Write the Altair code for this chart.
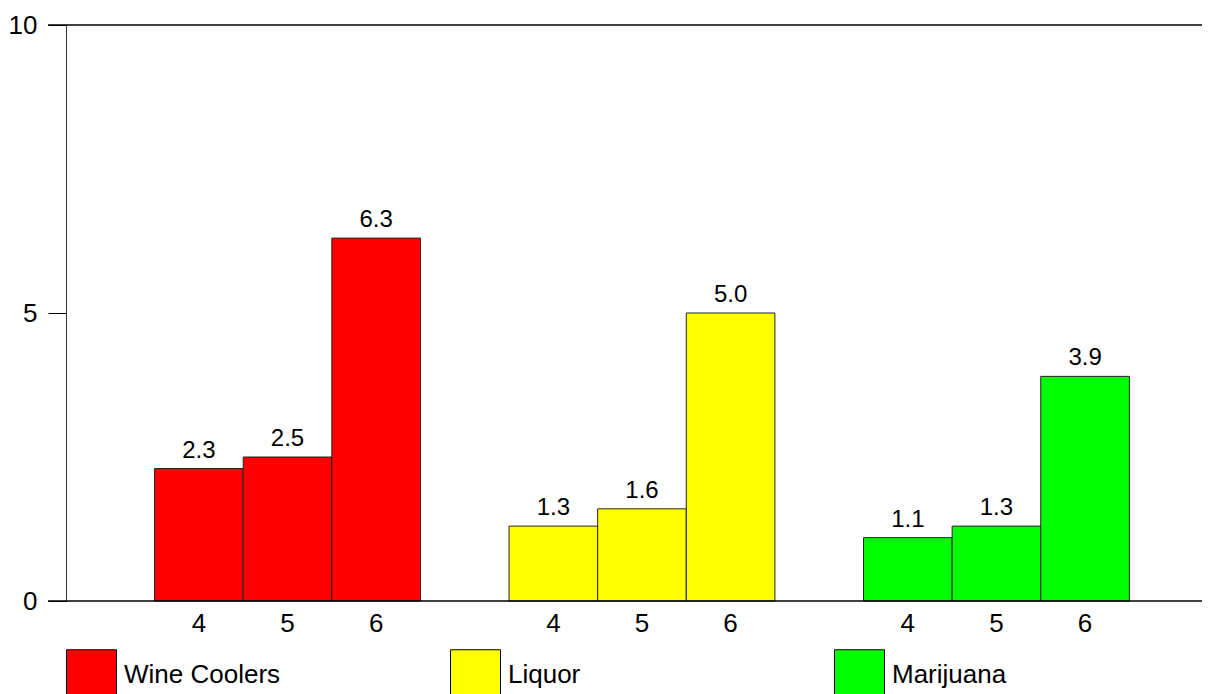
import altair as alt
import pandas as pd

substances = ["Wine Coolers", "Liquor", "Marijuana"]
grades = ["4", "5", "6"]
wine_coolers = [2.3, 2.5, 6.3]
liquor = [1.3, 1.6, 5.0]
marijuana = [1.1, 1.3, 3.9]
colors = ["#FF0000", "#FFFF00", "#00FF00"]
y_ticks = [0, 5, 10]
frame_lines = [0, 10]

rows = []
for sub, vals in zip(substances, [wine_coolers, liquor, marijuana]):
    for g, v in zip(grades, vals):
        rows.append({"substance": sub, "grade": g, "value": v})
df = pd.DataFrame(rows)
lines_df = pd.DataFrame({"v": frame_lines})

W, H = 1136, 576
FONT = "Liberation Sans"

x_enc = alt.X("substance:N", sort=substances, axis=None,
              scale=alt.Scale(paddingInner=0.25, paddingOuter=0.2274, align=0.5495, round=False))
xo_enc = alt.XOffset("grade:N", sort=grades,
                     scale=alt.Scale(paddingInner=0, paddingOuter=0, round=False))
y_scale = alt.Scale(domain=[0, 10], nice=False)

bars = alt.Chart(df).mark_bar(stroke="#222222", strokeWidth=1).encode(
    x=x_enc,
    xOffset=xo_enc,
    y=alt.Y("value:Q", scale=y_scale, title=None,
            axis=alt.Axis(values=y_ticks, tickSize=18, grid=False, domainColor="#333333",
                          tickColor="#000000", labelFontSize=26, labelFont=FONT,
                          labelColor="#000000", labelPadding=11, format="d")),
    color=alt.Color("substance:N", sort=substances,
                    scale=alt.Scale(domain=substances, range=colors),
                    legend=alt.Legend(orient="none", legendX=0, legendY=624, direction="horizontal",
                                      columns=3, gridAlign="all", columnPadding=167,
                                      symbolType="square", symbolSize=2500,
                                      symbolStrokeColor="#000000", symbolStrokeWidth=1,
                                      labelFontSize=26, labelFont=FONT, labelColor="#000000",
                                      labelOffset=7, title=None, padding=0,
                                      labelLimit=400)),
)

labels = alt.Chart(df).mark_text(baseline="alphabetic", dy=-11, fontSize=24, font=FONT,
                                 color="#000000").encode(
    x=x_enc,
    xOffset=xo_enc,
    y=alt.Y("value:Q", scale=y_scale),
    text=alt.Text("value:Q", format=".1f"),
)

grade_labels = alt.Chart(df).mark_text(baseline="alphabetic", fontSize=26, font=FONT,
                                       color="#000000").encode(
    x=x_enc,
    xOffset=xo_enc,
    y=alt.value(H + 31),
    text="grade:N",
)

frame = alt.Chart(lines_df).mark_rule(color="#000000", strokeWidth=1.5).encode(
    y=alt.Y("v:Q", scale=y_scale),
    x=alt.value(-18),
    x2=alt.value(W),
)

chart = alt.layer(bars, labels, grade_labels, frame).properties(
    width=W, height=H,
    autosize=alt.AutoSizeParams(type="none"),
    padding={"left": 58, "top": 17, "right": 0, "bottom": 93},
).configure_view(stroke=None)

chart.save("out.html", embed_options={"renderer": "svg", "actions": False})
